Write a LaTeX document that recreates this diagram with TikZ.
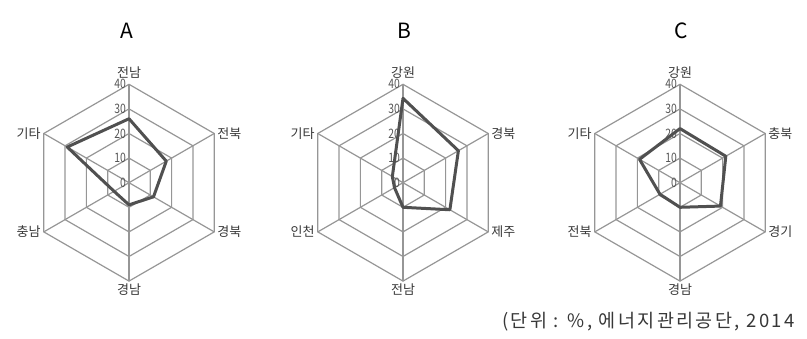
\documentclass[tikz,border=0pt]{standalone}
\usepackage{fontspec}
\usepackage{graphicx}
\setmainfont{Noto Sans CJK KR}
\newfontfamily\notefont[LetterSpace=13]{Noto Sans CJK KR}
\usetikzlibrary{positioning}

\definecolor{gridgray}{RGB}{150,150,150}
\definecolor{linegray}{RGB}{80,80,80}
\definecolor{textgray}{RGB}{55,55,55}

\begin{document}
\begin{tikzpicture}[
    x=1pt,y=1pt,
    grid/.style={draw=gridgray,line width=1.2pt},
    dat/.style={draw=linegray,line width=3pt,line join=round},
    lab/.style={font=\fontsize{13}{13}\selectfont,text=textgray,inner sep=1pt},
    tick/.style={font=\fontsize{13}{13}\selectfont,text=textgray!85,inner sep=0pt,anchor=east},
    ttl/.style={font=\fontsize{21}{21}\selectfont}
    ]
    \useasboundingbox (0,0) rectangle (807,338);

    % chart A
    \begin{scope}[shift={(129,155.3)}]
    \coordinate (Ac) at (0,0);
    \foreach \i in {0,...,5}
      \coordinate (Ao\i) at ({90-60*\i}:98.4);
    \foreach \r in {24.6,49.2,73.8,98.4}
      \draw[grid] (90:\r) -- (30:\r) -- (-30:\r) -- (-90:\r) -- (-150:\r) -- (150:\r) -- cycle;
    \foreach \i in {0,...,5}
      \draw[grid] (Ac) -- (Ao\i);
    \foreach \v in {0,10,20,30,40}
      \node[tick] (At\v) at (-3,\v*2.46) {\scalebox{0.8}[1]{\v}};
    \foreach \v [count=\i from 0] in {26,17.5,11.5,9,7,29}
      \coordinate (Ad\i) at ({90-60*\i}:{\v*2.46});
    \draw[dat] (Ad0) -- (Ad1) -- (Ad2) -- (Ad3) -- (Ad4) -- (Ad5) -- cycle;
    \node[lab,above=5pt] (Al0) at (Ao0) {전남};
    \node[lab,right=2pt] (Al1) at (Ao1) {전북};
    \node[lab,right=2pt] (Al2) at (Ao2) {경북};
    \node[lab,below=1pt] (Al3) at (Ao3) {경남};
    \node[lab,left=2pt] (Al4) at (Ao4) {충남};
    \node[lab,left=2pt] (Al5) at (Ao5) {기타};
    \end{scope}

    % chart B
    \begin{scope}[shift={(403,155.3)}]
    \coordinate (Bc) at (0,0);
    \foreach \i in {0,...,5}
      \coordinate (Bo\i) at ({90-60*\i}:98.4);
    \foreach \r in {24.6,49.2,73.8,98.4}
      \draw[grid] (90:\r) -- (30:\r) -- (-30:\r) -- (-90:\r) -- (-150:\r) -- (150:\r) -- cycle;
    \foreach \i in {0,...,5}
      \draw[grid] (Bc) -- (Bo\i);
    \foreach \v in {0,10,20,30,40}
      \node[tick] (Bt\v) at (-3,\v*2.46) {\scalebox{0.8}[1]{\v}};
    \foreach \v [count=\i from 0] in {34.3,26,22,10,4,5}
      \coordinate (Bd\i) at ({90-60*\i}:{\v*2.46});
    \draw[dat] (Bd0) -- (Bd1) -- (Bd2) -- (Bd3) -- (Bd4) -- (Bd5) -- cycle;
    \node[lab,above=5pt] (Bl0) at (Bo0) {강원};
    \node[lab,right=2pt] (Bl1) at (Bo1) {경북};
    \node[lab,right=2pt] (Bl2) at (Bo2) {제주};
    \node[lab,below=1pt] (Bl3) at (Bo3) {전남};
    \node[lab,left=2pt] (Bl4) at (Bo4) {인천};
    \node[lab,left=2pt] (Bl5) at (Bo5) {기타};
    \end{scope}

    % chart C
    \begin{scope}[shift={(680,155.3)}]
    \coordinate (Cc) at (0,0);
    \foreach \i in {0,...,5}
      \coordinate (Co\i) at ({90-60*\i}:98.4);
    \foreach \r in {24.6,49.2,73.8,98.4}
      \draw[grid] (90:\r) -- (30:\r) -- (-30:\r) -- (-90:\r) -- (-150:\r) -- (150:\r) -- cycle;
    \foreach \i in {0,...,5}
      \draw[grid] (Cc) -- (Co\i);
    \foreach \v in {0,10,20,30,40}
      \node[tick] (Ct\v) at (-3,\v*2.46) {\scalebox{0.8}[1]{\v}};
    \foreach \v [count=\i from 0] in {22,21.5,19,10,9.4,19}
      \coordinate (Cd\i) at ({90-60*\i}:{\v*2.46});
    \draw[dat] (Cd0) -- (Cd1) -- (Cd2) -- (Cd3) -- (Cd4) -- (Cd5) -- cycle;
    \node[lab,above=5pt] (Cl0) at (Co0) {강원};
    \node[lab,right=2pt] (Cl1) at (Co1) {충북};
    \node[lab,right=2pt] (Cl2) at (Co2) {경기};
    \node[lab,below=1pt] (Cl3) at (Co3) {경남};
    \node[lab,left=2pt] (Cl4) at (Co4) {전북};
    \node[lab,left=2pt] (Cl5) at (Co5) {기타};
    \end{scope}

    % titles and source
    \node[ttl] (tA) at (127,307) {A};
    \node[ttl] (tB) at (404,307) {B};
    \node[ttl] (tC) at (681,307) {C};
    \node[anchor=west,inner sep=0pt,text=textgray,font=\notefont\fontsize{18.5}{18.5}\selectfont] (src) at (502,16) {(단위 : \%, 에너지관리공단, 2014};
\end{tikzpicture}
\end{document}
